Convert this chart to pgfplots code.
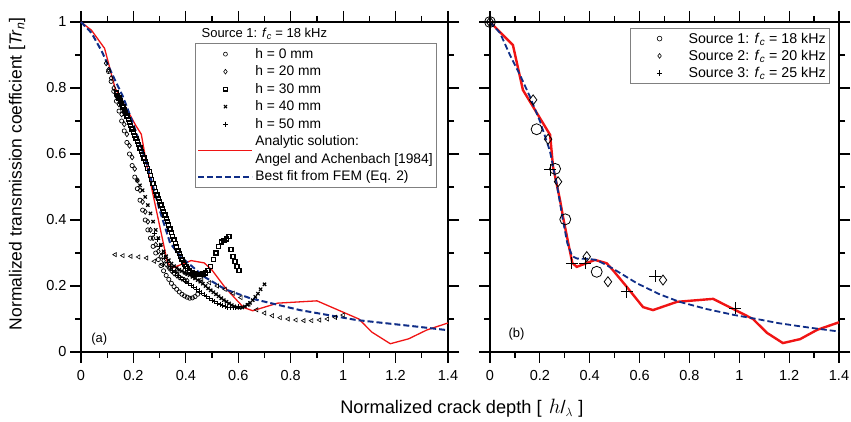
\documentclass[border=0pt]{standalone}
\usepackage{pgfplots}
\pgfplotsset{compat=1.18}
\usepackage{fontspec}
\setmainfont{Liberation Sans}
\definecolor{anred}{RGB}{240,20,20}
\definecolor{fitblue}{RGB}{15,45,135}
\pgfplotsset{
  lowline/.style={legend image code/.code={\draw[##1,overlay] (0pt,-8.8pt) -- (54pt,-8.8pt);}},
  myaxis/.style={
    scale only axis, height=330pt,
    xmin=0, xmax=1.4, ymin=0, ymax=1,
    xtick={0,0.2,...,1.4}, ytick={0,0.2,...,1},
    minor tick num=1,
    tick align=outside, major tick length=11pt, minor tick length=6pt,
    every tick/.style={black, line width=1.2pt},
    every minor tick/.style={black, line width=1.2pt},
    axis line style={line width=1.2pt},
    tick label style={font=\fontsize{14.5}{16}\selectfont},
    /pgf/number format/assume math mode=true,
    xticklabel style={yshift=-4pt},
    clip=false,
    legend cell align=left,
    legend image code/.code={\draw[mark repeat=2,mark phase=2,##1] plot coordinates {(0pt,0pt) (27pt,0pt) (54pt,0pt)}; \path[draw=none,fill=none] (0pt,-1pt) rectangle (54pt,1pt);},
  }
}
\begin{document}
\begin{tikzpicture}
\path[use as bounding box] (0,0) rectangle (851pt,422pt);
% ---------------- left panel ----------------
\begin{axis}[myaxis, at={(81pt,70pt)}, anchor=south west, width=367pt,
  legend style={at={(axis description cs:0.970,0.936)}, anchor=north east, draw=gray, line width=0.6pt,
    font=\fontsize{13.8}{15}\selectfont, row sep=2pt, inner xsep=2pt, inner ysep=3pt},
]
\addlegendimage{only marks, mark=o, mark size=2pt, black, line width=0.6pt}
\addlegendentry{h = 0 mm}
\addlegendimage{only marks, mark=diamond, mark size=2.4pt, black, line width=0.6pt}
\addlegendentry{h = 20 mm}
\addlegendimage{only marks, mark=square, mark size=1.8pt, black, line width=1.1pt}
\addlegendentry{h = 30 mm}
\addlegendimage{only marks, mark=x, mark size=2.2pt, black, line width=1.1pt}
\addlegendentry{h = 40 mm}
\addlegendimage{only marks, mark=+, mark size=2.5pt, black, line width=0.7pt}
\addlegendentry{h = 50 mm}
\addlegendimage{anred, line width=1.4pt, lowline}
\addlegendentry{Analytic solution:}
\addlegendimage{empty legend}
\addlegendentry{Angel and Achenbach [1984]}
\addlegendimage{fitblue, line width=2pt, dash pattern=on 6pt off 3pt}
\addlegendentry{Best fit from FEM (Eq. 2)}

% triangles (unlisted series)
\addplot[only marks, mark=triangle, mark size=2.4pt, mark options={rotate=90}, black, line width=0.6pt, forget plot] coordinates {
(0.13,0.295)(0.16,0.292)(0.19,0.29)(0.22,0.288)(0.25,0.285)(0.28,0.275)(0.31,0.265)(0.34,0.255)(0.37,0.245)(0.40,0.237)(0.43,0.228)(0.46,0.22)(0.49,0.21)(0.52,0.2)(0.55,0.19)(0.58,0.178)(0.61,0.165)(0.64,0.145)(0.67,0.128)(0.70,0.118)(0.73,0.11)(0.76,0.104)(0.79,0.1)(0.82,0.097)(0.85,0.095)(0.88,0.095)(0.91,0.097)(0.94,0.1)(0.97,0.105)(1.0,0.112)};
% h = 0 mm circles
\addplot[only marks, mark=o, mark size=2.1pt, black, line width=0.7pt, forget plot] coordinates {
(0.105,0.85)(0.115,0.82)(0.125,0.79)(0.135,0.76)(0.145,0.73)(0.155,0.70)(0.165,0.67)(0.175,0.635)(0.185,0.60)(0.195,0.565)(0.205,0.53)(0.215,0.495)(0.225,0.46)(0.235,0.43)(0.245,0.40)(0.255,0.37)(0.265,0.345)(0.275,0.32)(0.285,0.30)(0.295,0.28)(0.305,0.262)(0.315,0.246)(0.325,0.232)(0.335,0.22)(0.345,0.208)(0.355,0.198)(0.365,0.19)(0.375,0.182)(0.385,0.175)(0.395,0.17)(0.405,0.166)(0.415,0.163)(0.425,0.164)(0.435,0.168)(0.445,0.175)};
% h = 20 mm diamonds
\addplot[only marks, mark=diamond, mark size=2.5pt, black, line width=0.7pt, forget plot] coordinates {
(0.096,0.875)(0.105,0.855)(0.115,0.83)(0.125,0.80)(0.135,0.775)(0.145,0.75)(0.155,0.72)(0.165,0.69)(0.175,0.66)(0.185,0.625)(0.195,0.59)(0.205,0.555)(0.215,0.52)(0.225,0.49)(0.235,0.455)(0.245,0.425)(0.255,0.395)(0.265,0.37)(0.275,0.345)(0.285,0.325)(0.295,0.305)(0.305,0.29)(0.315,0.277)(0.325,0.265)(0.335,0.255)(0.345,0.246)(0.355,0.238)(0.365,0.232)(0.375,0.226)(0.385,0.222)(0.395,0.218)(0.405,0.216)};
% h = 30 mm squares
\addplot[only marks, mark=square, mark size=2pt, black, line width=1.3pt, forget plot] coordinates {
(0.135,0.785)(0.14,0.778)(0.145,0.77)(0.15,0.761)(0.155,0.752)(0.16,0.742)(0.165,0.733)(0.17,0.724)(0.175,0.715)(0.18,0.705)(0.185,0.695)(0.19,0.686)(0.195,0.676)(0.2,0.667)(0.205,0.657)(0.21,0.648)(0.215,0.638)(0.22,0.628)(0.225,0.618)(0.23,0.608)(0.235,0.598)(0.24,0.588)(0.245,0.578)(0.25,0.568)(0.255,0.557)(0.26,0.546)(0.265,0.535)(0.27,0.522)(0.275,0.51)(0.28,0.498)(0.285,0.487)(0.29,0.476)(0.295,0.465)(0.3,0.455)(0.305,0.445)(0.31,0.435)(0.315,0.425)(0.32,0.415)(0.325,0.405)(0.33,0.395)(0.335,0.385)(0.34,0.373)(0.345,0.362)(0.35,0.351)(0.355,0.34)(0.36,0.329)(0.365,0.318)(0.37,0.308)(0.375,0.298)(0.38,0.289)(0.385,0.28)(0.39,0.272)(0.395,0.265)(0.4,0.259)(0.405,0.253)(0.415,0.245)(0.425,0.239)(0.435,0.236)(0.445,0.235)(0.455,0.235)(0.465,0.236)(0.475,0.239)(0.485,0.246)(0.495,0.26)(0.505,0.28)(0.515,0.30)(0.525,0.32)(0.535,0.333)(0.545,0.338)(0.555,0.342)(0.565,0.35)(0.572,0.31)(0.58,0.29)(0.588,0.275)(0.595,0.26)(0.603,0.247)};
% h = 40 mm crosses
\addplot[only marks, mark=x, mark size=2.3pt, black, line width=1.2pt, forget plot] coordinates {
(0.215,0.52)(0.225,0.505)(0.235,0.49)(0.245,0.47)(0.255,0.445)(0.265,0.42)(0.275,0.395)(0.285,0.37)(0.295,0.345)(0.305,0.325)(0.315,0.305)(0.325,0.29)(0.335,0.278)(0.345,0.268)(0.355,0.26)(0.365,0.254)(0.375,0.249)(0.385,0.245)(0.395,0.241)(0.405,0.237)(0.415,0.233)(0.425,0.228)(0.435,0.223)(0.445,0.218)(0.455,0.213)(0.465,0.207)(0.475,0.2)(0.485,0.193)(0.495,0.187)(0.505,0.181)(0.515,0.175)(0.525,0.169)(0.535,0.163)(0.545,0.157)(0.555,0.152)(0.565,0.147)(0.575,0.142)(0.585,0.138)(0.595,0.135)(0.605,0.134)(0.615,0.135)(0.625,0.138)(0.635,0.143)(0.645,0.149)(0.655,0.157)(0.665,0.167)(0.675,0.177)(0.685,0.19)(0.7,0.205)};
% h = 50 mm plus
\addplot[only marks, mark=+, mark size=2.5pt, black, line width=0.8pt, forget plot] coordinates {
(0.28,0.36)(0.29,0.34)(0.30,0.32)(0.31,0.30)(0.32,0.285)(0.33,0.27)(0.34,0.258)(0.35,0.248)(0.36,0.24)(0.37,0.233)(0.38,0.227)(0.39,0.221)(0.40,0.215)(0.41,0.209)(0.42,0.203)(0.43,0.197)(0.44,0.191)(0.45,0.185)(0.46,0.179)(0.47,0.173)(0.48,0.167)(0.49,0.162)(0.50,0.157)(0.51,0.152)(0.52,0.148)(0.53,0.144)(0.54,0.141)(0.55,0.138)(0.56,0.136)(0.57,0.135)(0.58,0.135)(0.59,0.136)(0.60,0.138)};
% analytic solution
\addplot[anred, line width=1.3pt, forget plot] coordinates {
(0,1)(0.04,0.975)(0.09,0.92)(0.13,0.80)(0.21,0.685)(0.23,0.66)(0.25,0.57)(0.29,0.42)(0.33,0.27)(0.35,0.255)(0.42,0.277)(0.47,0.27)(0.5,0.248)(0.55,0.195)(0.62,0.135)(0.655,0.125)(0.75,0.148)(0.9,0.155)(1.06,0.1)(1.11,0.06)(1.18,0.025)(1.25,0.04)(1.32,0.067)(1.4,0.088)};
% best fit
\addplot[fitblue, line width=2pt, dash pattern=on 6pt off 3pt, forget plot] coordinates {
(0,1)(0.04,0.967)(0.08,0.91)(0.12,0.84)(0.16,0.774)(0.2,0.69)(0.25,0.572)(0.3,0.43)(0.34,0.33)(0.38,0.289)(0.47,0.228)(0.55,0.19)(0.645,0.163)(0.835,0.127)(1.05,0.097)(1.28,0.077)(1.4,0.066)};
\node[anchor=base west, font=\fontsize{13}{15}\selectfont] at (axis description cs:0.319,0.952) {Source 1: \textit{f}\textsubscript{\textit{c}} = 18 kHz};
\node[font=\fontsize{13}{15}\selectfont] at (axis description cs:0.05,0.04) {(a)};
\node[font=\fontsize{18.2}{20}\selectfont] at (axis description cs:1.038,-0.17) {Normalized crack depth [\hspace{0.4em}{\fontsize{21}{21}\selectfont$h$}/$_{\lambda}$\hspace{0.3em}]};
\node[font=\fontsize{17.5}{19}\selectfont, rotate=90] at (axis description cs:-0.174,0.54) {Normalized transmission coefficient [\textit{Tr}\textsubscript{\textit{n}}]};
\end{axis}
% ---------------- right panel ----------------
\begin{axis}[myaxis, at={(490pt,70pt)}, anchor=south west, width=349pt,
  yticklabels={},
  legend style={at={(axis description cs:0.974,0.982)}, anchor=north east, draw=gray, line width=0.6pt,
    font=\fontsize{14.2}{15.5}\selectfont, row sep=1.5pt, inner xsep=2pt, inner ysep=2.5pt},
]
\addlegendimage{only marks, mark=o, mark size=2.4pt, black, line width=0.6pt}
\addlegendentry{Source 1: \textit{f}\textsubscript{\textit{c}} = 18 kHz}
\addlegendimage{only marks, mark=diamond, mark size=2.4pt, black, line width=0.6pt}
\addlegendentry{Source 2: \textit{f}\textsubscript{\textit{c}} = 20 kHz}
\addlegendimage{only marks, mark=+, mark size=2.8pt, black, line width=0.7pt}
\addlegendentry{Source 3: \textit{f}\textsubscript{\textit{c}} = 25 kHz}
\addplot[anred, line width=2.4pt, forget plot] coordinates {
(0,1)(0.092,0.93)(0.132,0.794)(0.241,0.658)(0.253,0.561)(0.281,0.46)(0.293,0.409)(0.33,0.27)(0.348,0.258)(0.421,0.279)(0.468,0.269)(0.493,0.248)(0.548,0.198)(0.614,0.136)(0.654,0.127)(0.75,0.152)(0.895,0.161)(1.055,0.1)(1.111,0.058)(1.175,0.027)(1.244,0.039)(1.312,0.067)(1.4,0.09)};
\addplot[fitblue, line width=1.8pt, dash pattern=on 6pt off 3pt, forget plot] coordinates {
(0,1)(0.04,0.967)(0.08,0.9)(0.12,0.84)(0.16,0.774)(0.2,0.70)(0.24,0.61)(0.27,0.5)(0.29,0.41)(0.31,0.33)(0.33,0.29)(0.35,0.283)(0.4,0.282)(0.43,0.278)(0.49,0.254)(0.59,0.208)(0.68,0.175)(0.76,0.152)(0.87,0.13)(0.98,0.112)(1.07,0.1)(1.16,0.087)(1.28,0.074)(1.4,0.062)};
\addplot[only marks, mark=o, mark size=5.5pt, black, line width=0.8pt, forget plot] coordinates {
(0,1)(0.187,0.675)(0.261,0.555)(0.302,0.402)(0.428,0.243)};
\addplot[only marks, mark=diamond, mark size=5pt, black, line width=0.8pt, forget plot] coordinates {
(0,1)(0.173,0.764)(0.233,0.645)(0.273,0.516)(0.388,0.289)(0.473,0.213)(0.694,0.218)};
\addplot[only marks, mark=+, mark size=6pt, black, line width=0.9pt, forget plot] coordinates {
(0,1)(0.241,0.552)(0.328,0.269)(0.381,0.269)(0.548,0.183)(0.662,0.23)(0.983,0.132)};
\node[font=\fontsize{13}{15}\selectfont] at (axis description cs:0.076,0.055) {(b)};
\end{axis}
\end{tikzpicture}
\end{document}
